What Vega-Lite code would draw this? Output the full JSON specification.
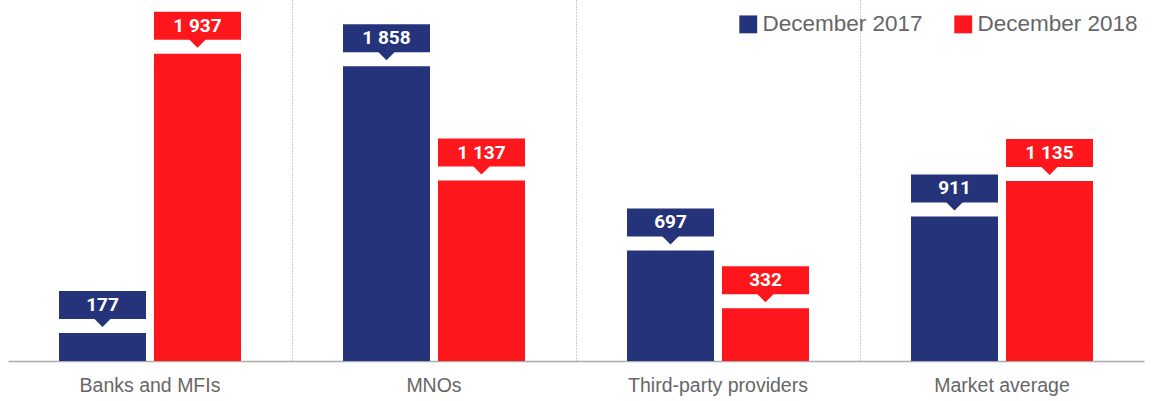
{
  "$schema": "https://vega.github.io/schema/vega-lite/v6.json",
  "width": 1136,
  "height": 361,
  "autosize": {"type": "none"},
  "padding": {"left": 8, "top": 0, "right": 10, "bottom": 40},
  "config": {
    "view": {"stroke": null},
    "locale": {"number": {"decimal": ".", "thousands": " ", "grouping": [3], "currency": ["", ""]}}
  },
  "data": {
    "values": [
      {"category": "Banks and MFIs", "period": "December 2017", "value": 177},
      {"category": "Banks and MFIs", "period": "December 2018", "value": 1937},
      {"category": "MNOs", "period": "December 2017", "value": 1858},
      {"category": "MNOs", "period": "December 2018", "value": 1137},
      {"category": "Third-party providers", "period": "December 2017", "value": 697},
      {"category": "Third-party providers", "period": "December 2018", "value": 332},
      {"category": "Market average", "period": "December 2017", "value": 911},
      {"category": "Market average", "period": "December 2018", "value": 1135}
    ]
  },
  "encoding": {
    "x": {
      "field": "category",
      "type": "nominal",
      "sort": null,
      "scale": {"paddingInner": 0, "paddingOuter": 0},
      "axis": {
        "title": null,
        "labelAngle": 0,
        "labelFont": "Liberation Sans",
        "labelFontSize": 19.5,
        "labelColor": "#666666",
        "labelPadding": 15,
        "labelLimit": 0,
        "ticks": false,
        "domainColor": "#aaaaaa",
        "domainWidth": 1.5,
        "grid": true,
        "bandPosition": 0,
        "gridColor": "#999999",
        "gridDash": [1, 2],
        "gridWidth": 1,
        "gridOpacity": {"condition": {"test": "datum.value === 'Banks and MFIs'", "value": 0}, "value": 1}
      }
    },
    "xOffset": {
      "field": "period",
      "type": "nominal",
      "scale": {"paddingInner": 0.0842, "paddingOuter": 0.537}
    },
    "color": {
      "field": "period",
      "type": "nominal",
      "scale": {"domain": ["December 2017", "December 2018"], "range": ["#25337b", "#fd171c"]},
      "legend": {
        "title": null,
        "orient": "none",
        "legendX": 729,
        "legendY": 13,
        "direction": "horizontal",
        "symbolType": "square",
        "symbolSize": 320,
        "symbolStrokeWidth": 0,
        "symbolOpacity": 1,
        "labelFont": "Liberation Sans",
        "labelFontSize": 22.5,
        "labelColor": "#666666",
        "labelOffset": 3,
        "labelLimit": 0,
        "columnPadding": 29,
        "padding": 0
      }
    }
  },
  "layer": [
    {
      "mark": {"type": "bar", "opacity": 1},
      "encoding": {
        "y": {"field": "value", "type": "quantitative", "scale": {"domain": [0, 2275], "nice": false, "zero": true}, "axis": null}
      }
    },
    {
      "mark": {"type": "bar", "opacity": 1, "yOffset": -42, "y2Offset": -14},
      "encoding": {
        "y": {"field": "value", "type": "quantitative"},
        "y2": {"field": "value"}
      }
    },
    {
      "mark": {"type": "point", "filled": true, "opacity": 1, "shape": "M-1,-1L1,-1L0,0Z", "size": 400, "yOffset": -6},
      "encoding": {
        "y": {"field": "value", "type": "quantitative"}
      }
    },
    {
      "mark": {"type": "text", "color": "white", "font": "Roboto", "fontWeight": "bold", "fontSize": 19, "baseline": "middle", "yOffset": -28},
      "encoding": {
        "y": {"field": "value", "type": "quantitative"},
        "text": {"field": "value", "type": "quantitative", "format": ",d"},
        "color": {"value": "white"}
      }
    }
  ]
}
